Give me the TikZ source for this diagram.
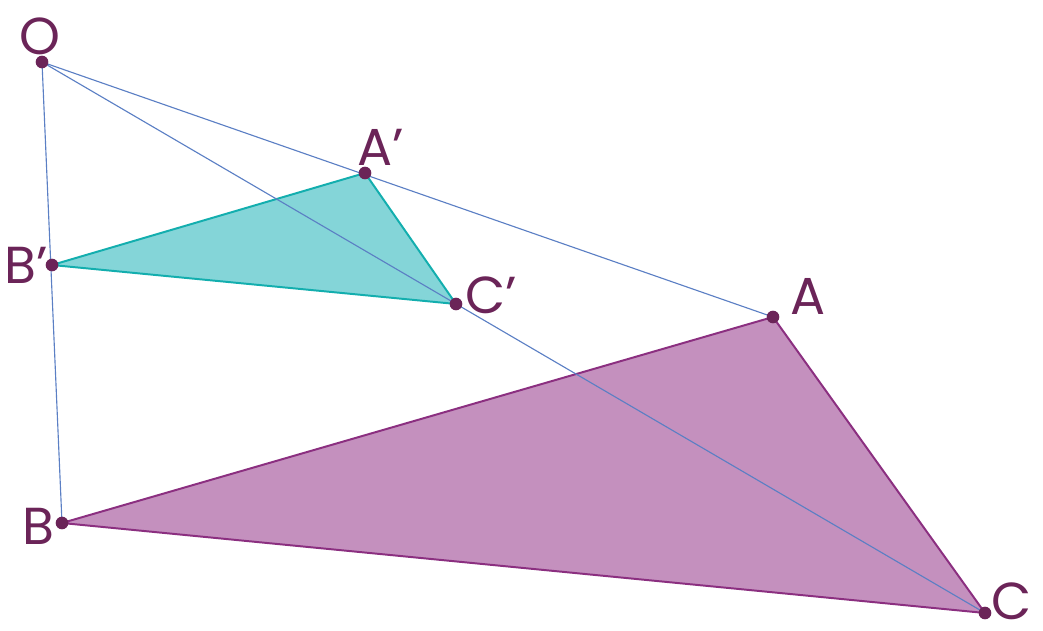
\documentclass[tikz,border=0pt]{standalone}
\usepackage{fontspec}
\setmainfont{Poppins}
\definecolor{dotc}{HTML}{6B2458}
\definecolor{purfill}{HTML}{C490BE}
\definecolor{purline}{HTML}{8B2F80}
\definecolor{tealfill}{HTML}{84D5D8}
\definecolor{tealline}{HTML}{13AEAE}
\definecolor{rayc}{HTML}{5B7FC4}
\tikzset{
  pt/.style={circle,fill=dotc,inner sep=0pt,minimum size=9pt},
  lab/.style={text=dotc,font=\fontsize{37}{37}\selectfont,inner sep=0pt},
  ray/.style={draw=rayc,line width=0.8pt},
}
\begin{document}
\begin{tikzpicture}[x=0.025cm,y=-0.025cm]
\useasboundingbox (0,0) rectangle (1043,630);
\coordinate (O) at (42,62);
\coordinate (A1) at (365,173);
\coordinate (B1) at (52,265);
\coordinate (C1) at (456,304);
\coordinate (A) at (773,317);
\coordinate (B) at (62,523);
\coordinate (C) at (985,613);
\fill[purfill] (A) -- (B) -- (C) -- cycle;
\draw[purline,line width=1.4pt,line join=round] (A) -- (B) -- (C) -- cycle;
\fill[tealfill] (A1) -- (B1) -- (C1) -- cycle;
\draw[tealline,line width=1.4pt,line join=round] (A1) -- (B1) -- (C1) -- cycle;
\draw[ray] (O) -- (A);
\draw[ray] (O) -- (B);
\draw[ray] (O) -- (C);
\foreach \p in {O,A1,B1,C1,A,B,C} \node[pt] (d\p) at (\p) {};
\node[lab] (lO) at (40,36) {O};
\node[lab] (lA1) at (381,147) {A’};
\node[lab] (lB1) at (26,265) {B’};
\node[lab] (lC1) at (491,295) {C’};
\node[lab] (lA) at (808,296) {A};
\node[lab] (lB) at (38,526) {B};
\node[lab] (lC) at (1012,601) {C};
\end{tikzpicture}
\end{document}
